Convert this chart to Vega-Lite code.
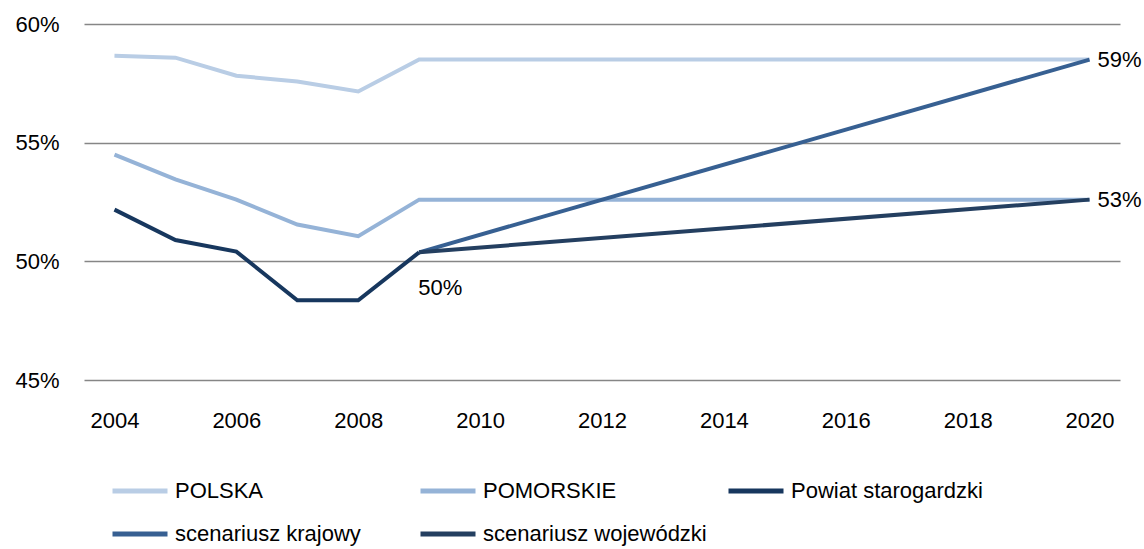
{
  "$schema": "https://vega.github.io/schema/vega-lite/v6.json",
  "width": 1036,
  "height": 356,
  "autosize": {"type": "none"},
  "padding": {"left": 84, "top": 24, "right": 24, "bottom": 169},
  "background": "white",
  "config": {
    "view": {"stroke": null},
    "font": "Liberation Sans",
    "axis": {"labelFont": "Liberation Sans", "labelFontSize": 22, "labelColor": "#000000"},
    "legend": {"labelFont": "Liberation Sans", "labelFontSize": 22, "labelColor": "#000000"}
  },
  "datasets": {
    "series": [
      {"year": 2004, "value": 58.66, "series": "POLSKA"},
      {"year": 2005, "value": 58.58, "series": "POLSKA"},
      {"year": 2006, "value": 57.82, "series": "POLSKA"},
      {"year": 2007, "value": 57.58, "series": "POLSKA"},
      {"year": 2008, "value": 57.16, "series": "POLSKA"},
      {"year": 2009, "value": 58.5, "series": "POLSKA"},
      {"year": 2020, "value": 58.5, "series": "POLSKA"},
      {"year": 2004, "value": 54.5, "series": "POMORSKIE"},
      {"year": 2005, "value": 53.45, "series": "POMORSKIE"},
      {"year": 2006, "value": 52.6, "series": "POMORSKIE"},
      {"year": 2007, "value": 51.55, "series": "POMORSKIE"},
      {"year": 2008, "value": 51.06, "series": "POMORSKIE"},
      {"year": 2009, "value": 52.6, "series": "POMORSKIE"},
      {"year": 2020, "value": 52.6, "series": "POMORSKIE"},
      {"year": 2004, "value": 52.18, "series": "Powiat starogardzki"},
      {"year": 2005, "value": 50.9, "series": "Powiat starogardzki"},
      {"year": 2006, "value": 50.41, "series": "Powiat starogardzki"},
      {"year": 2007, "value": 48.36, "series": "Powiat starogardzki"},
      {"year": 2008, "value": 48.36, "series": "Powiat starogardzki"},
      {"year": 2009, "value": 50.38, "series": "Powiat starogardzki"},
      {"year": 2009, "value": 50.38, "series": "scenariusz krajowy"},
      {"year": 2020, "value": 58.5, "series": "scenariusz krajowy"},
      {"year": 2009, "value": 50.38, "series": "scenariusz wojewódzki"},
      {"year": 2020, "value": 52.6, "series": "scenariusz wojewódzki"}
    ],
    "labels": [
      {"year": 2009, "value": 50.38, "label": "50%", "pos": "below"},
      {"year": 2020, "value": 58.5, "label": "59%", "pos": "right"},
      {"year": 2020, "value": 52.6, "label": "53%", "pos": "right"}
    ]
  },
  "layer": [
    {
      "data": {"name": "series"},
      "mark": {"type": "line", "strokeWidth": 4, "strokeJoin": "miter"},
      "encoding": {
        "x": {
          "field": "year", "type": "quantitative",
          "scale": {"domain": [2003.5, 2020.5], "nice": false, "zero": false},
          "axis": {
            "title": null, "values": [2004, 2006, 2008, 2010, 2012, 2014, 2016, 2018, 2020],
            "format": "d", "grid": false, "domain": false, "ticks": false, "labelPadding": 30
          }
        },
        "y": {
          "field": "value", "type": "quantitative",
          "scale": {"domain": [45, 60], "nice": false, "zero": false},
          "axis": {
            "title": null, "values": [45, 50, 55, 60], "labelExpr": "datum.value + '%'",
            "grid": true, "gridColor": "#868686", "gridWidth": 1.5,
            "domain": false, "ticks": false, "labelPadding": 25
          }
        },
        "color": {
          "field": "series", "type": "nominal",
          "scale": {
            "domain": ["POLSKA", "POMORSKIE", "Powiat starogardzki", "scenariusz krajowy", "scenariusz wojewódzki"],
            "range": ["#B9CDE5", "#95B3D7", "#17375E", "#376092", "#243F60"]
          },
          "legend": {
            "title": null, "orient": "none", "legendX": 26, "legendY": 437,
            "direction": "horizontal", "columns": 3, "gridAlign": "all",
            "columnPadding": 11, "rowPadding": 2, "padding": 0,
            "symbolType": "stroke", "symbolSize": 3025, "symbolStrokeWidth": 5,
            "labelOffset": 5, "labelLimit": 400
          }
        }
      }
    },
    {
      "data": {"name": "labels"},
      "transform": [{"filter": "datum.pos == 'below'"}],
      "mark": {"type": "text", "align": "left", "baseline": "middle", "dx": -1, "dy": 36, "fontSize": 22, "font": "Liberation Sans", "color": "#000000"},
      "encoding": {
        "x": {"field": "year", "type": "quantitative"},
        "y": {"field": "value", "type": "quantitative"},
        "text": {"field": "label"}
      }
    },
    {
      "data": {"name": "labels"},
      "transform": [{"filter": "datum.pos == 'right'"}],
      "mark": {"type": "text", "align": "left", "baseline": "middle", "dx": 8, "fontSize": 22, "font": "Liberation Sans", "color": "#000000"},
      "encoding": {
        "x": {"field": "year", "type": "quantitative"},
        "y": {"field": "value", "type": "quantitative"},
        "text": {"field": "label"}
      }
    }
  ]
}
